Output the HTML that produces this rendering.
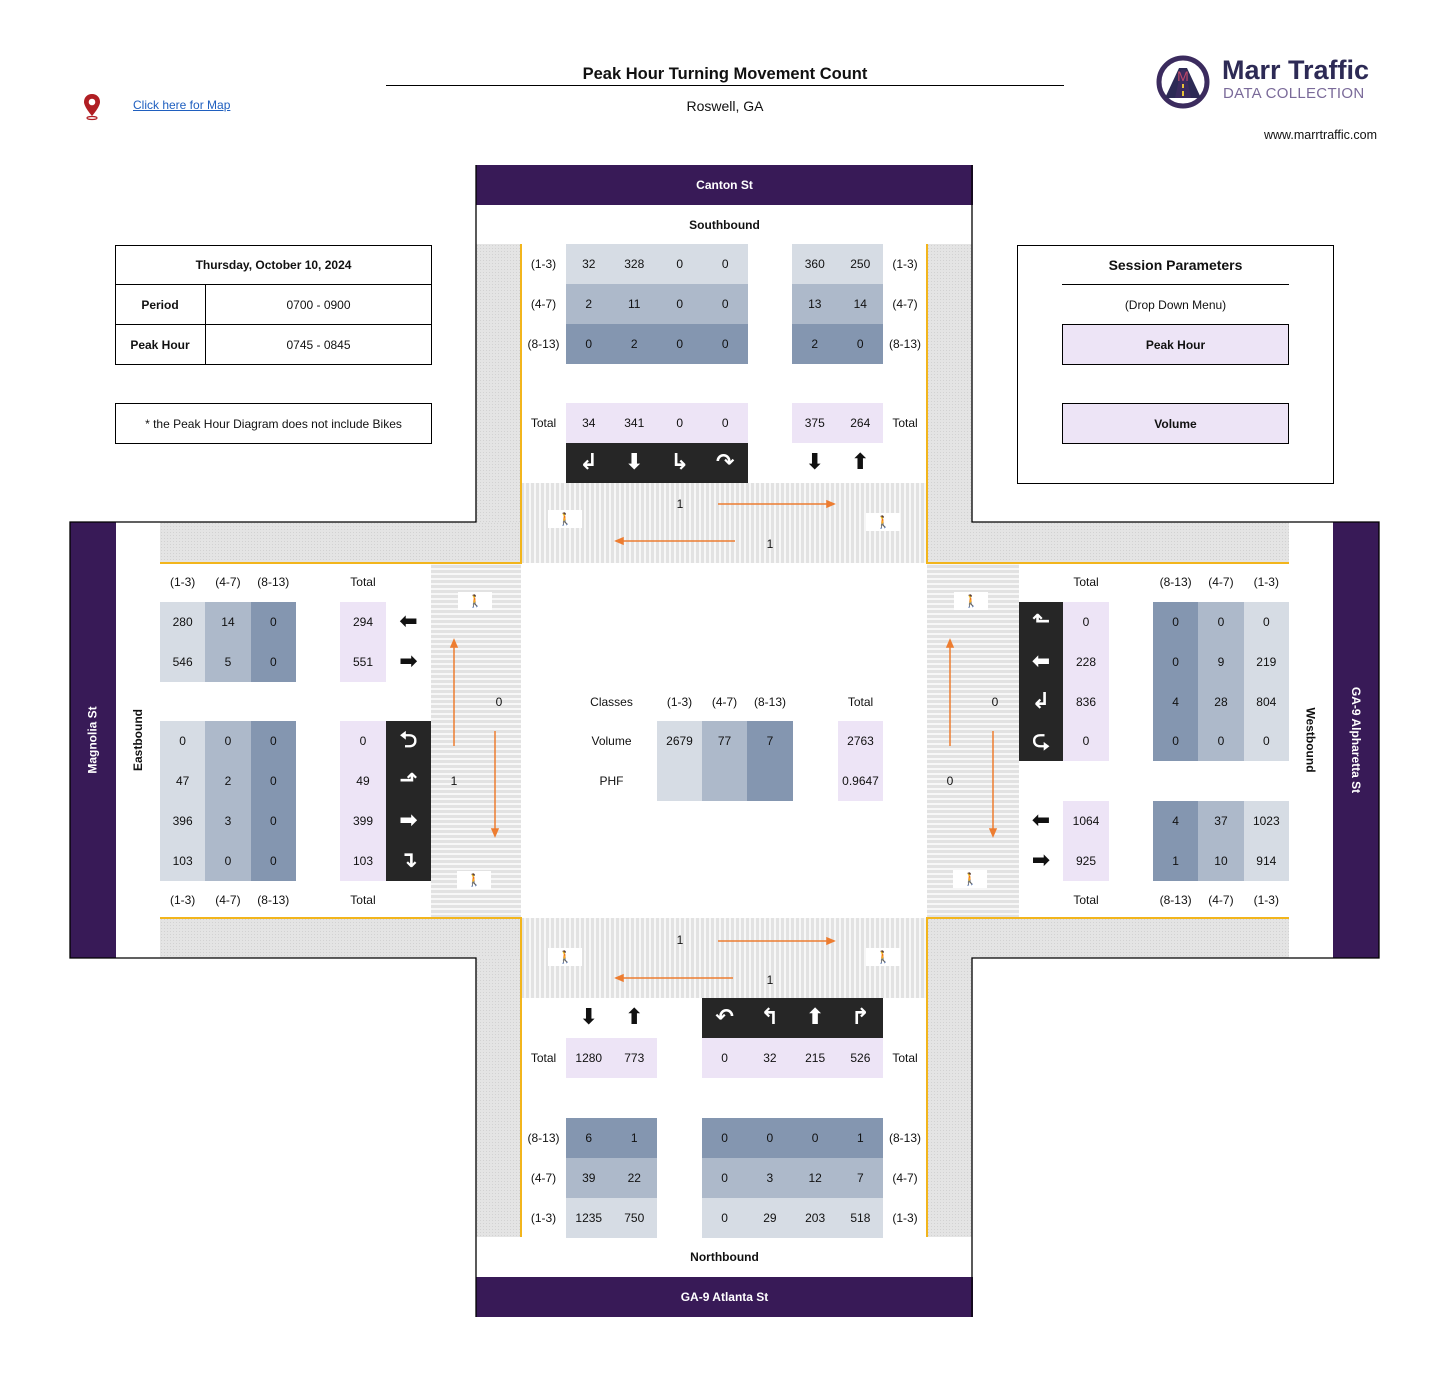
<!DOCTYPE html>
<html><head><meta charset="utf-8">
<style>
*{margin:0;padding:0;box-sizing:border-box}
body{width:1437px;height:1379px;background:#fff;position:relative;overflow:hidden;font-family:"Liberation Sans",sans-serif;font-size:12px;color:#111}
.a{position:absolute}
.r{position:absolute;display:flex;height:40px}
.r i{font-style:normal;display:flex;align-items:center;justify-content:center;height:40px;flex:none}
.l{background:#d6dce4}.m{background:#adb9ca}.d{background:#8496b0}.t{background:#ede4f6}.k{background:#262626;color:#fff}
.g{font-family:"DejaVu Sans",sans-serif;font-size:22px;font-weight:bold;line-height:1}
.pur{position:absolute;background:#381a57;color:#fff;font-weight:bold;display:flex;align-items:center;justify-content:center}
.dot{position:absolute;background-color:#e4e4e4;background-image:radial-gradient(#d2d2d2 0.6px,transparent 0.8px);background-size:3px 3px}
.vs{position:absolute;background:repeating-linear-gradient(90deg,#e2e2e2 0 3px,#f7f7f7 3px 5px)}
.hs{position:absolute;background:repeating-linear-gradient(0deg,#e2e2e2 0 3px,#f7f7f7 3px 5px)}
.ped{position:absolute;width:34px;height:18px;background:#fff;display:flex;align-items:center;justify-content:center;color:#000}
.box{position:absolute;border:1px solid #000}
.c{position:absolute;display:flex;align-items:center;justify-content:center}
</style></head><body>

<svg class="a" style="left:82px;top:93px" width="20" height="28" viewBox="0 0 20 28"><path d="M10 1C5 1 2 4.5 2 9c0 5 8 14 8 14s8-9 8-14c0-4.5-3-8-8-8z" fill="#b01e23"/><circle cx="10" cy="9" r="3.3" fill="#fff"/><ellipse cx="10" cy="25" rx="5" ry="1.5" fill="none" stroke="#b01e23" stroke-width="1.2"/></svg>
<div class="a" style="left:133px;top:98px;color:#1f5fbf;text-decoration:underline;font-size:12px">Click here for Map</div>
<div class="c" style="left:386px;top:63px;width:678px;height:22px;font-weight:bold;font-size:16.5px">Peak Hour Turning Movement Count</div>
<div class="a" style="left:386px;top:85px;width:678px;height:1px;background:#000"></div>
<div class="c" style="left:386px;top:96px;width:678px;height:20px;font-size:14px">Roswell, GA</div>
<svg class="a" style="left:1155px;top:54px" width="56" height="56" viewBox="0 0 56 56"><circle cx="28" cy="28" r="24" fill="#fff" stroke="#3b2b5e" stroke-width="5"/><path d="M10 44 L24 14 L32 14 L46 44 Z" fill="#2d2a55"/><path d="M20 44 L26 16 L30 16 L36 44Z" fill="#3b2b5e"/><rect x="27" y="30" width="2" height="4" fill="#e8c23a"/><rect x="27" y="37" width="2" height="5" fill="#e8c23a"/><text x="28" y="27" font-size="14" text-anchor="middle" fill="#c04a6a" font-family="Liberation Sans">M</text></svg>
<div class="a" style="left:1222px;top:55px;font-size:27px;color:#2d2a55;font-weight:bold">Marr Traffic</div>
<div class="a" style="left:1223px;top:85px;font-size:15px;color:#7a6a99;letter-spacing:0.3px">DATA COLLECTION</div>
<div class="a" style="left:1264px;top:128px;font-size:12.5px">www.marrtraffic.com</div>

<div class="dot" style="left:476px;top:244px;width:45px;height:278px"></div>
<div class="dot" style="left:160px;top:522px;width:361px;height:41px"></div>
<div class="dot" style="left:927px;top:244px;width:45px;height:278px"></div>
<div class="dot" style="left:927px;top:522px;width:362px;height:41px"></div>
<div class="dot" style="left:160px;top:918px;width:361px;height:40px"></div>
<div class="dot" style="left:476px;top:958px;width:45px;height:279px"></div>
<div class="dot" style="left:927px;top:918px;width:362px;height:40px"></div>
<div class="dot" style="left:927px;top:958px;width:45px;height:279px"></div>
<div class="vs" style="left:521px;top:483px;width:406px;height:80px"></div>
<div class="vs" style="left:521px;top:918px;width:406px;height:80px"></div>
<div class="hs" style="left:431px;top:563px;width:90px;height:355px"></div>
<div class="hs" style="left:927px;top:563px;width:92px;height:355px"></div>

<div class="pur" style="left:476px;top:165px;width:497px;height:40px">Canton St</div>
<div class="pur" style="left:476px;top:1277px;width:497px;height:40px">GA-9 Atlanta St</div>
<div class="pur" style="left:70px;top:522px;width:46px;height:436px"><span style="transform:rotate(-90deg);white-space:nowrap">Magnolia St</span></div>
<div class="pur" style="left:1333px;top:522px;width:46px;height:436px"><span style="transform:rotate(90deg);white-space:nowrap">GA-9 Alpharetta St</span></div>
<div class="c" style="left:116px;top:522px;width:44px;height:436px;font-weight:bold"><span style="transform:rotate(-90deg);white-space:nowrap">Eastbound</span></div>
<div class="c" style="left:1289px;top:522px;width:44px;height:436px;font-weight:bold"><span style="transform:rotate(90deg);white-space:nowrap">Westbound</span></div>
<div class="c" style="left:476px;top:215px;width:497px;height:20px;font-weight:bold">Southbound</div>
<div class="c" style="left:476px;top:1247px;width:497px;height:20px;font-weight:bold">Northbound</div>

<div class="r" style="left:521px;top:244px"><i style="width:45px">(1-3)</i><i class="l" style="width:45.5px">32</i><i class="l" style="width:45.5px">328</i><i class="l" style="width:45.5px">0</i><i class="l" style="width:45.5px">0</i><i style="width:44px"></i><i class="l" style="width:45.5px">360</i><i class="l" style="width:45.5px">250</i><i style="width:44px">(1-3)</i></div>
<div class="r" style="left:521px;top:284px"><i style="width:45px">(4-7)</i><i class="m" style="width:45.5px">2</i><i class="m" style="width:45.5px">11</i><i class="m" style="width:45.5px">0</i><i class="m" style="width:45.5px">0</i><i style="width:44px"></i><i class="m" style="width:45.5px">13</i><i class="m" style="width:45.5px">14</i><i style="width:44px">(4-7)</i></div>
<div class="r" style="left:521px;top:324px"><i style="width:45px">(8-13)</i><i class="d" style="width:45.5px">0</i><i class="d" style="width:45.5px">2</i><i class="d" style="width:45.5px">0</i><i class="d" style="width:45.5px">0</i><i style="width:44px"></i><i class="d" style="width:45.5px">2</i><i class="d" style="width:45.5px">0</i><i style="width:44px">(8-13)</i></div>
<div class="r" style="left:521px;top:403px"><i style="width:45px">Total</i><i class="t" style="width:45.5px">34</i><i class="t" style="width:45.5px">341</i><i class="t" style="width:45.5px">0</i><i class="t" style="width:45.5px">0</i><i style="width:44px"></i><i class="t" style="width:45.5px">375</i><i class="t" style="width:45.5px">264</i><i style="width:44px">Total</i></div>
<div class="r" style="left:521px;top:443px"><i style="width:45px"></i><i class="k g" style="width:45.5px">↲</i><i class="k g" style="width:45.5px">⬇</i><i class="k g" style="width:45.5px">↳</i><i class="k g" style="width:45.5px">↷</i><i style="width:44px"></i><i class="g" style="width:45.5px">⬇</i><i class="g" style="width:45.5px">⬆</i><i style="width:44px"></i></div>

<div class="r" style="left:521px;top:998px"><i style="width:45px"></i><i class="g" style="width:45.5px">⬇</i><i class="g" style="width:45.5px">⬆</i><i style="width:45px"></i><i class="k g" style="width:45.25px">↶</i><i class="k g" style="width:45.25px">↰</i><i class="k g" style="width:45.25px">⬆</i><i class="k g" style="width:45.25px">↱</i><i style="width:44px"></i></div>
<div class="r" style="left:521px;top:1038px"><i style="width:45px">Total</i><i class="t" style="width:45.5px">1280</i><i class="t" style="width:45.5px">773</i><i style="width:45px"></i><i class="t" style="width:45.25px">0</i><i class="t" style="width:45.25px">32</i><i class="t" style="width:45.25px">215</i><i class="t" style="width:45.25px">526</i><i style="width:44px">Total</i></div>
<div class="r" style="left:521px;top:1118px"><i style="width:45px">(8-13)</i><i class="d" style="width:45.5px">6</i><i class="d" style="width:45.5px">1</i><i style="width:45px"></i><i class="d" style="width:45.25px">0</i><i class="d" style="width:45.25px">0</i><i class="d" style="width:45.25px">0</i><i class="d" style="width:45.25px">1</i><i style="width:44px">(8-13)</i></div>
<div class="r" style="left:521px;top:1158px"><i style="width:45px">(4-7)</i><i class="m" style="width:45.5px">39</i><i class="m" style="width:45.5px">22</i><i style="width:45px"></i><i class="m" style="width:45.25px">0</i><i class="m" style="width:45.25px">3</i><i class="m" style="width:45.25px">12</i><i class="m" style="width:45.25px">7</i><i style="width:44px">(4-7)</i></div>
<div class="r" style="left:521px;top:1198px"><i style="width:45px">(1-3)</i><i class="l" style="width:45.5px">1235</i><i class="l" style="width:45.5px">750</i><i style="width:45px"></i><i class="l" style="width:45.25px">0</i><i class="l" style="width:45.25px">29</i><i class="l" style="width:45.25px">203</i><i class="l" style="width:45.25px">518</i><i style="width:44px">(1-3)</i></div>

<div class="r" style="left:160px;top:562px"><i style="width:45.3px">(1-3)</i><i style="width:45.3px">(4-7)</i><i style="width:45.4px">(8-13)</i><i style="width:44px"></i><i style="width:46px">Total</i></div>
<div class="r" style="left:160px;top:602px"><i class="l" style="width:45.3px">280</i><i class="m" style="width:45.3px">14</i><i class="d" style="width:45.4px">0</i><i style="width:44px"></i><i class="t" style="width:46px">294</i><i class="g" style="width:45px">⬅</i></div>
<div class="r" style="left:160px;top:642px"><i class="l" style="width:45.3px">546</i><i class="m" style="width:45.3px">5</i><i class="d" style="width:45.4px">0</i><i style="width:44px"></i><i class="t" style="width:46px">551</i><i class="g" style="width:45px">➡</i></div>
<div class="r" style="left:160px;top:721px"><i class="l" style="width:45.3px">0</i><i class="m" style="width:45.3px">0</i><i class="d" style="width:45.4px">0</i><i style="width:44px"></i><i class="t" style="width:46px">0</i><i class="k g" style="width:45px">⮌</i></div>
<div class="r" style="left:160px;top:761px"><i class="l" style="width:45.3px">47</i><i class="m" style="width:45.3px">2</i><i class="d" style="width:45.4px">0</i><i style="width:44px"></i><i class="t" style="width:46px">49</i><i class="k g" style="width:45px">⬏</i></div>
<div class="r" style="left:160px;top:801px"><i class="l" style="width:45.3px">396</i><i class="m" style="width:45.3px">3</i><i class="d" style="width:45.4px">0</i><i style="width:44px"></i><i class="t" style="width:46px">399</i><i class="k g" style="width:45px">➡</i></div>
<div class="r" style="left:160px;top:841px"><i class="l" style="width:45.3px">103</i><i class="m" style="width:45.3px">0</i><i class="d" style="width:45.4px">0</i><i style="width:44px"></i><i class="t" style="width:46px">103</i><i class="k g" style="width:45px">↴</i></div>
<div class="r" style="left:160px;top:880px"><i style="width:45.3px">(1-3)</i><i style="width:45.3px">(4-7)</i><i style="width:45.4px">(8-13)</i><i style="width:44px"></i><i style="width:46px">Total</i></div>

<div class="r" style="left:1019px;top:562px"><i style="width:44px"></i><i style="width:46px">Total</i><i style="width:44px"></i><i style="width:45.3px">(8-13)</i><i style="width:45.3px">(4-7)</i><i style="width:45.4px">(1-3)</i></div>
<div class="r" style="left:1019px;top:602px"><i class="k g" style="width:44px">⬑</i><i class="t" style="width:46px">0</i><i style="width:44px"></i><i class="d" style="width:45.3px">0</i><i class="m" style="width:45.3px">0</i><i class="l" style="width:45.4px">0</i></div>
<div class="r" style="left:1019px;top:642px"><i class="k g" style="width:44px">⬅</i><i class="t" style="width:46px">228</i><i style="width:44px"></i><i class="d" style="width:45.3px">0</i><i class="m" style="width:45.3px">9</i><i class="l" style="width:45.4px">219</i></div>
<div class="r" style="left:1019px;top:682px;height:39px"><i class="k g" style="width:44px;height:39px">↲</i><i class="t" style="width:46px;height:39px">836</i><i style="width:44px"></i><i class="d" style="width:45.3px;height:39px">4</i><i class="m" style="width:45.3px;height:39px">28</i><i class="l" style="width:45.4px;height:39px">804</i></div>
<div class="r" style="left:1019px;top:721px"><i class="k g" style="width:44px">⮎</i><i class="t" style="width:46px">0</i><i style="width:44px"></i><i class="d" style="width:45.3px">0</i><i class="m" style="width:45.3px">0</i><i class="l" style="width:45.4px">0</i></div>
<div class="r" style="left:1019px;top:801px"><i class="g" style="width:44px">⬅</i><i class="t" style="width:46px">1064</i><i style="width:44px"></i><i class="d" style="width:45.3px">4</i><i class="m" style="width:45.3px">37</i><i class="l" style="width:45.4px">1023</i></div>
<div class="r" style="left:1019px;top:841px"><i class="g" style="width:44px">➡</i><i class="t" style="width:46px">925</i><i style="width:44px"></i><i class="d" style="width:45.3px">1</i><i class="m" style="width:45.3px">10</i><i class="l" style="width:45.4px">914</i></div>
<div class="r" style="left:1019px;top:880px"><i style="width:44px"></i><i style="width:46px">Total</i><i style="width:44px"></i><i style="width:45.3px">(8-13)</i><i style="width:45.3px">(4-7)</i><i style="width:45.4px">(1-3)</i></div>

<div class="r" style="left:566px;top:682px;height:39px"><i style="width:91px;height:39px">Classes</i><i style="width:45px;height:39px">(1-3)</i><i style="width:45px;height:39px">(4-7)</i><i style="width:46px;height:39px">(8-13)</i><i style="width:45px;height:39px"></i><i style="width:45px;height:39px">Total</i></div>
<div class="r" style="left:566px;top:721px"><i style="width:91px">Volume</i><i class="l" style="width:45px">2679</i><i class="m" style="width:45px">77</i><i class="d" style="width:46px">7</i><i style="width:45px"></i><i class="t" style="width:45px">2763</i></div>
<div class="r" style="left:566px;top:761px"><i style="width:91px">PHF</i><i class="l" style="width:45px"></i><i class="m" style="width:45px"></i><i class="d" style="width:46px"></i><i style="width:45px"></i><i class="t" style="width:45px">0.9647</i></div>

<div class="box" style="left:115px;top:245px;width:317px;height:120px"></div>
<div class="a" style="left:115px;top:284px;width:317px;height:1px;background:#000"></div>
<div class="a" style="left:115px;top:324px;width:317px;height:1px;background:#000"></div>
<div class="a" style="left:205px;top:284px;width:1px;height:80px;background:#000"></div>
<div class="c" style="left:115px;top:245px;width:317px;height:40px;font-weight:bold">Thursday, October 10, 2024</div>
<div class="c" style="left:115px;top:285px;width:90px;height:40px;font-weight:bold">Period</div>
<div class="c" style="left:205px;top:285px;width:227px;height:40px">0700 - 0900</div>
<div class="c" style="left:115px;top:325px;width:90px;height:40px;font-weight:bold">Peak Hour</div>
<div class="c" style="left:205px;top:325px;width:227px;height:40px">0745 - 0845</div>
<div class="box c" style="left:115px;top:403px;width:317px;height:41px">* the Peak Hour Diagram does not include Bikes</div>

<div class="box" style="left:1017px;top:245px;width:317px;height:239px"></div>
<div class="c" style="left:1017px;top:254px;width:317px;height:22px;font-weight:bold;font-size:14px">Session Parameters</div>
<div class="a" style="left:1062px;top:284px;width:227px;height:1px;background:#000"></div>
<div class="c" style="left:1017px;top:295px;width:317px;height:20px">(Drop Down Menu)</div>
<div class="box c t" style="left:1062px;top:324px;width:227px;height:41px;font-weight:bold">Peak Hour</div>
<div class="box c t" style="left:1062px;top:403px;width:227px;height:41px;font-weight:bold">Volume</div>

<div class="ped" style="left:548px;top:510px">🚶</div>
<div class="ped" style="left:866px;top:513px">🚶</div>
<div class="ped" style="left:458px;top:592px">🚶</div>
<div class="ped" style="left:457px;top:871px">🚶</div>
<div class="ped" style="left:954px;top:592px">🚶</div>
<div class="ped" style="left:953px;top:870px">🚶</div>
<div class="ped" style="left:548px;top:948px">🚶</div>
<div class="ped" style="left:866px;top:948px">🚶</div>

<div class="c" style="left:670px;top:496px;width:20px;height:16px">1</div>
<div class="c" style="left:760px;top:536px;width:20px;height:16px">1</div>
<div class="c" style="left:670px;top:932px;width:20px;height:16px">1</div>
<div class="c" style="left:760px;top:972px;width:20px;height:16px">1</div>
<div class="c" style="left:489px;top:694px;width:20px;height:16px">0</div>
<div class="c" style="left:444px;top:773px;width:20px;height:16px">1</div>
<div class="c" style="left:985px;top:694px;width:20px;height:16px">0</div>
<div class="c" style="left:940px;top:773px;width:20px;height:16px">0</div>

<svg class="a" style="left:0;top:0" width="1437" height="1379">
<g fill="none" stroke="#000" stroke-width="1.3">
<path d="M476 165V522H70V958H476V1317"/>
<path d="M972 165V522H1379V958H972V1317"/>
</g>
<g fill="none" stroke="#f2b51c" stroke-width="2">
<path d="M521 244V563H160"/><path d="M927 244V563H1289"/>
<path d="M160 918H521V1237"/><path d="M1289 918H927V1237"/>
</g>
<g stroke="#ed7d31" stroke-width="1.5" fill="#ed7d31">
<line x1="718" y1="504" x2="828" y2="504"/><path d="M834 504l-7-3v6z"/>
<line x1="735" y1="541" x2="622" y2="541"/><path d="M616 541l7-3v6z"/>
<line x1="718" y1="941" x2="828" y2="941"/><path d="M834 941l-7-3v6z"/>
<line x1="733" y1="978" x2="622" y2="978"/><path d="M616 978l7-3v6z"/>
<line x1="454" y1="746" x2="454" y2="646"/><path d="M454 640l-3 7h6z"/>
<line x1="495" y1="731" x2="495" y2="830"/><path d="M495 836l-3-7h6z"/>
<line x1="950" y1="746" x2="950" y2="646"/><path d="M950 640l-3 7h6z"/>
<line x1="993" y1="731" x2="993" y2="830"/><path d="M993 836l-3-7h6z"/>
</g>
</svg>
</body></html>
